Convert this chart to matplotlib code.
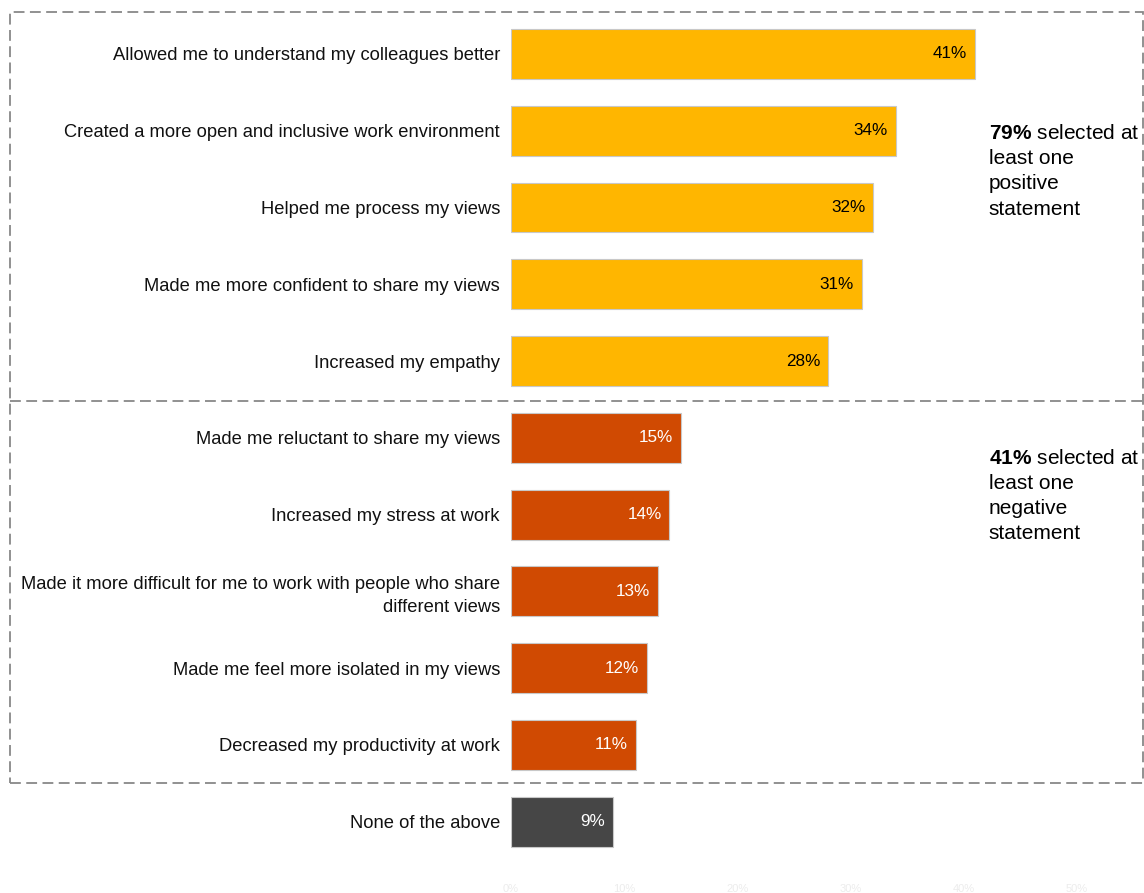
import matplotlib
matplotlib.use("Agg")
import matplotlib.pyplot as plt
from matplotlib.patches import Rectangle
from matplotlib.lines import Line2D

plt.rcParams['font.family'] = ['Liberation Sans', 'DejaVu Sans']
plt.rcParams['mathtext.fontset'] = 'custom'
plt.rcParams['mathtext.rm'] = 'Liberation Sans'
plt.rcParams['mathtext.bf'] = 'Liberation Sans:bold'

# Survey statements and share of respondents
statements = [
    "Allowed me to understand my colleagues better",
    "Created a more open and inclusive work environment",
    "Helped me process my views",
    "Made me more confident to share my views",
    "Increased my empathy",
    "Made me reluctant to share my views",
    "Increased my stress at work",
    "Made it more difficult for me to work with people who share\ndifferent views",
    "Made me feel more isolated in my views",
    "Decreased my productivity at work",
    "None of the above",
]
values = [41, 34, 32, 31, 28, 15, 14, 13, 12, 11, 9]
groups = ["pos"] * 5 + ["neg"] * 5 + ["none"]
tick_vals = [0, 10, 20, 30, 40, 50]
tick_labels = ["0%", "10%", "20%", "30%", "40%", "50%"]

group_colors = {"pos": "#FFB600", "neg": "#D04A02", "none": "#464646"}
text_colors = {"pos": "black", "neg": "white", "none": "white"}

W, H = 1144, 893
fig = plt.figure(figsize=(W / 100, H / 100), dpi=100)
ax = fig.add_axes([511 / W, 1 - 860 / H, 566 / W, (860 - 15.6) / H])

ypos = list(range(len(values)))
bars = ax.barh(ypos, values, height=0.65,
               color=[group_colors[g] for g in groups],
               edgecolor="#c8c8c8", linewidth=0.8)

for y, v, g in zip(ypos, values, groups):
    ax.text(v - 0.7, y, f"{v}%", ha="right", va="center",
            fontsize=12.3, color=text_colors[g])

ax.set_xlim(0, 50)
ax.set_ylim(10.5, -0.5)
ax.set_yticks(ypos)
ax.set_yticklabels(statements, fontsize=13.2, color="#111111", linespacing=1.45)
ax.set_xticks(tick_vals)
ax.set_xticklabels(tick_labels, fontsize=8, color="#ececec")
ax.tick_params(axis="y", length=0, pad=8)
ax.tick_params(axis="x", length=0, pad=17)
for s in ax.spines.values():
    s.set_visible(False)

# group summaries
ax.text(42.2, 0.91, "$\\bf{79\\%}$ selected at\nleast one\npositive\nstatement",
        ha="left", va="top", fontsize=15, linespacing=1.42)
ax.text(42.2, 5.14, "$\\bf{41\\%}$ selected at\nleast one\nnegative\nstatement",
        ha="left", va="top", fontsize=15, linespacing=1.42)

# dashed frame around positive / negative groups
dash = (0, (6, 3))
fig.patches.append(Rectangle((10 / W, 1 - 783 / H), (1143 - 10) / W,
                             (783 - 12) / H, transform=fig.transFigure,
                             fill=False, edgecolor="#888888",
                             linestyle=dash, linewidth=1.3))
fig.lines.append(Line2D([10 / W, 1143 / W], [1 - 401 / H, 1 - 401 / H],
                        transform=fig.transFigure, color="#888888",
                        linestyle=dash, linewidth=1.3))

fig.savefig("out.png", dpi=100)
